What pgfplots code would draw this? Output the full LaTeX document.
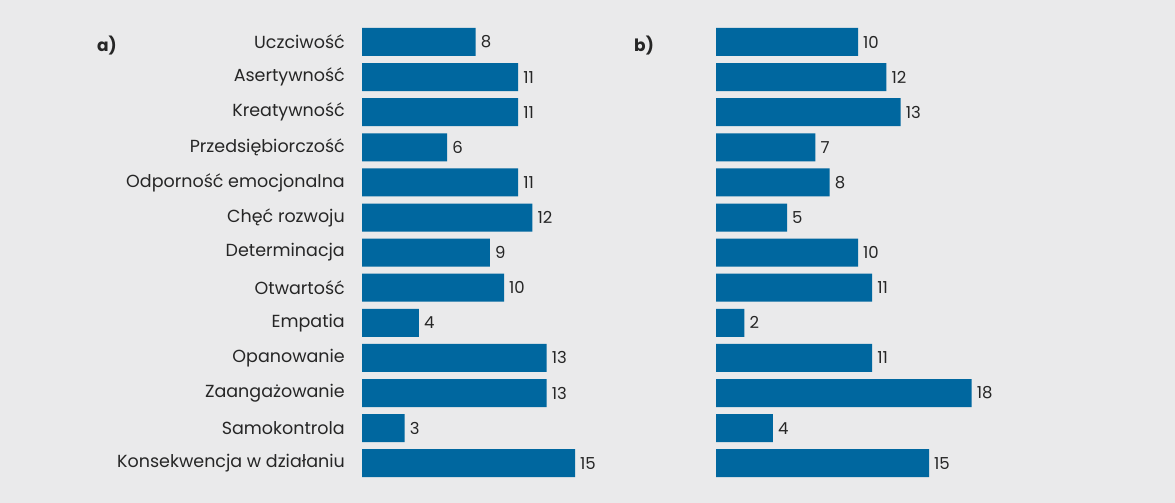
\documentclass[border=0pt]{standalone}
\usepackage{fontspec}
\setmainfont{Poppins}
\usepackage{pgfplots}
\usepackage{pgfplotstable}
\pgfplotsset{compat=1.18}

\definecolor{bg}{HTML}{EAEAEB}
\definecolor{bar}{HTML}{00679F}
\definecolor{txt}{HTML}{262626}

\pgfplotstableread{
i a b
0 8 10
1 11 12
2 11 13
3 6 7
4 11 8
5 12 5
6 9 10
7 10 11
8 4 2
9 13 11
10 13 18
11 3 4
12 15 15
}\cechy

\pgfplotsset{
  panel/.style={
    xbar, scale only axis,
    width=284pt, height=456.3pt,
    xmin=0, xmax=20, ymin=-0.5, ymax=12.5,
    y dir=reverse,
    axis line style={draw=none},
    major tick length=0pt,
    xtick=\empty,
    bar width=28pt,
    point meta=x,
    nodes near coords,
    nodes near coords style={anchor=west, inner sep=0pt, xshift=5pt,
      font=\fontsize{16.5}{16.5}\selectfont, text=txt},
    /pgf/number format/assume math mode=true,
  },
}

\begin{document}
\begin{tikzpicture}
\fill[bg] (0,0) rectangle (1175pt,503pt);
\useasboundingbox (0,0) rectangle (1175pt,503pt);

\begin{axis}[panel, at={(362pt,22.25pt)}, anchor=south west,
    ytick={0,...,12},
    yticklabels={Uczciwość, Asertywność, Kreatywność, Przedsiębiorczość,
      Odporność emocjonalna, Chęć rozwoju, Determinacja, Otwartość, Empatia,
      Opanowanie, Zaangażowanie, Samokontrola, Konsekwencja w działaniu},
    yticklabel style={anchor=east, inner sep=0pt, xshift=-17pt,
      font=\fontsize{17.5}{17.5}\selectfont, text=txt},
  ]
\addplot[fill=bar, draw=none] table[x=a, y=i] {\cechy};
\end{axis}

\begin{axis}[panel, at={(716pt,22.25pt)}, anchor=south west,
    ytick=\empty,
  ]
\addplot[fill=bar, draw=none] table[x=b, y=i] {\cechy};
\end{axis}

\node[anchor=west, inner sep=0pt, font=\fontsize{17}{17}\selectfont\bfseries, text=txt] at (97pt,457pt) {a)};
\node[anchor=west, inner sep=0pt, font=\fontsize{17}{17}\selectfont\bfseries, text=txt] at (634pt,457pt) {b)};
\end{tikzpicture}
\end{document}
